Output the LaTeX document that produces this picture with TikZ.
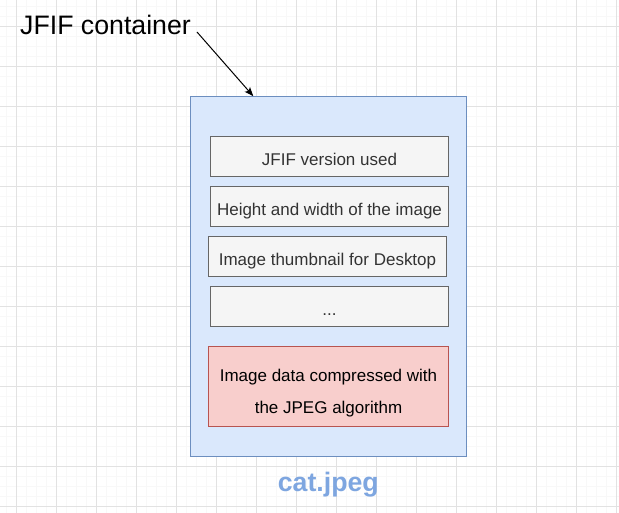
\documentclass[tikz,border=0pt]{standalone}
\usepackage{fontspec}
\setmainfont{Liberation Sans}
\usetikzlibrary{arrows.meta}
\definecolor{gridmajor}{HTML}{E2E2E2}
\definecolor{gridminor}{HTML}{F8F8F8}
\definecolor{outerfill}{HTML}{DAE8FC}
\definecolor{outerdraw}{HTML}{6C8EBF}
\definecolor{grayfill}{HTML}{F5F5F5}
\definecolor{graydraw}{HTML}{666666}
\definecolor{graytext}{HTML}{333333}
\definecolor{redfill}{HTML}{F8CECC}
\definecolor{reddraw}{HTML}{B85450}
\definecolor{namecol}{HTML}{7EA6E0}
\tikzset{
  minorline/.style={draw=gridminor, line width=1pt},
  majorline/.style={draw=gridmajor, line width=1pt},
  outerbox/.style={draw=outerdraw, fill=outerfill, line width=1pt, minimum width=276pt, minimum height=360pt, inner sep=0pt},
  fieldbox/.style={draw=graydraw, fill=grayfill, line width=1pt, minimum width=238pt, minimum height=40pt, inner sep=0pt,
    text=graytext, font=\fontsize{17}{20}\selectfont, text height=19.4pt, text depth=0pt},
  databox/.style={draw=reddraw, fill=redfill, line width=1pt, minimum width=240pt, minimum height=80pt, inner sep=0pt},
  datatext/.style={inner sep=0pt, text=black, align=center, font=\fontsize{17}{31.7}\selectfont, yshift=-6.5pt},
  bigtext/.style={inner sep=0pt, font=\fontsize{26.7}{30}\selectfont},
  conn/.style={line width=1pt, -{Stealth[length=9pt,width=7pt,inset=2pt]}}
}
\begin{document}
\begin{tikzpicture}[x=1pt,y=-1pt]
\useasboundingbox (0,0) rectangle (619,513);
\fill[white] (0,0) rectangle (619,513);
% grid
\foreach \i in {0,...,61} {\draw[minorline] ({6.7+10*\i},0) -- ({6.7+10*\i},513);}
\foreach \i in {0,...,50} {\draw[minorline] (0,{6.7+10*\i}) -- (619,{6.7+10*\i});}
\foreach \i in {0,...,15} {\draw[majorline] ({16.7+40*\i},0) -- ({16.7+40*\i},513);}
\foreach \i in {0,...,12} {\draw[majorline] (0,{26.7+40*\i}) -- (619,{26.7+40*\i});}
% container
\node[outerbox] (outer) at (328.3,276.2) {};
\node[fieldbox] (version) at (329.5,156.3) {JFIF version used};
\node[fieldbox] (size) at (329.5,206.3) {Height and width of the image};
\node[fieldbox] (thumb) at (327.5,256.3) {Image thumbnail for Desktop};
\node[fieldbox] (more) at (329.5,306.3) {...};
\node[databox, label={[datatext]center:Image data compressed with\\the JPEG algorithm}] (data) at (328.5,386.3) {};
\node[anchor=base, inner sep=0pt, text=namecol, font=\bfseries\fontsize{26.7}{30}\selectfont] (fname) at (328.3,491) {cat.jpeg};
% label and arrow
\node[bigtext, anchor=base west] (title) at (20,35) {JFIF container};
\coordinate (arrstart) at (197,32);
\coordinate (arrend) at (253.3,96.2);
\draw[conn] (arrstart) -- (arrend);
\end{tikzpicture}
\end{document}
